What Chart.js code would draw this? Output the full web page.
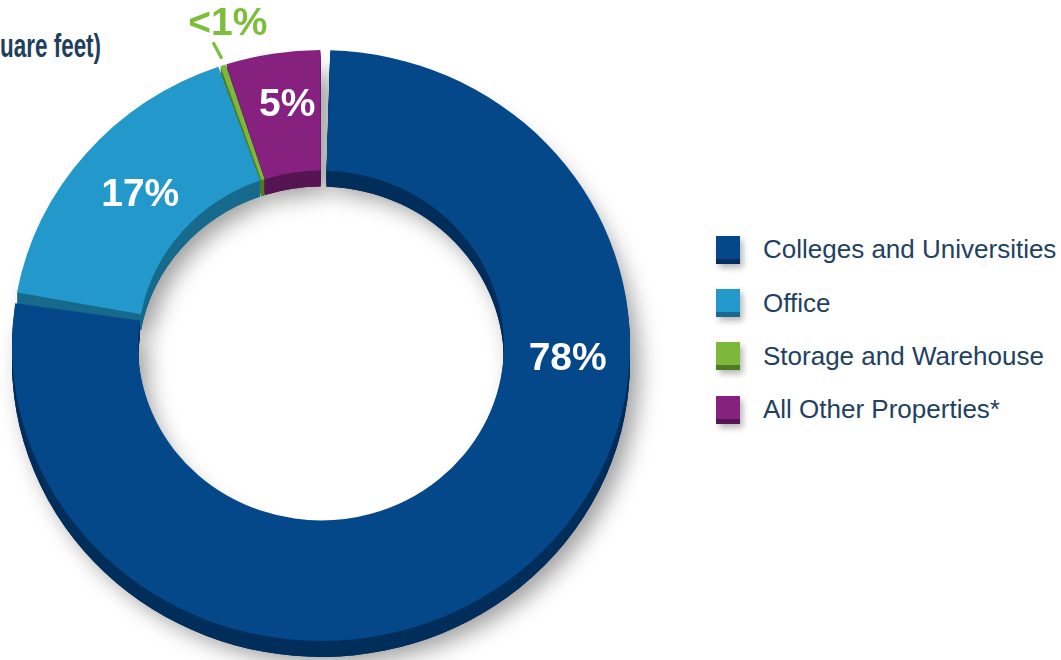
<!DOCTYPE html>
<html><head><meta charset="utf-8">
<script src="https://cdn.jsdelivr.net/npm/chart.js@4.4.1/dist/chart.umd.min.js"></script>
<style>
html,body{margin:0;padding:0;background:#fff;overflow:hidden;width:1061px;height:660px;position:relative;}
#wrap{position:absolute;left:0;top:0;width:700px;height:691px;}
#title{position:absolute;right:960px;top:28px;font:bold 34px/34px "Liberation Sans",Arial,sans-serif;color:#1E3F5E;white-space:nowrap;transform:scaleX(0.66);transform-origin:right center;}
#legend{position:absolute;left:716px;top:223px;font:26px "Liberation Sans",Arial,sans-serif;color:#22415F;}
.item{display:flex;align-items:center;height:53.4px;}
.box{width:24px;height:23px;margin-right:23px;box-shadow:3px 4px 6px rgba(0,0,0,0.28);box-sizing:content-box;}
</style></head>
<body>
<div id="title">(square feet)</div>
<div id="wrap"><canvas id="c" width="700" height="691"></canvas></div>
<div id="legend"></div>
<script>
// ---- data ----
const categories = ["Colleges and Universities", "Office", "Storage and Warehouse", "All Other Properties*"];
const shares = [78, 17, 0.3, 5];
const shareLabels = ["78%", "17%", "<1%", "5%"];
// ---- styles ----
const faceColors = ["#04488A", "#2398CB", "#7DB83A", "#862180"];
const sideColors = ["#022E5B", "#176A8C", "#4F7A24", "#561453"];
const labelColors = ["#FFFFFF", "#FFFFFF", "#7DBE3C", "#FFFFFF"];
const labelAngles = [92.9, -48.6, -15.4, -7.6];   // degrees clockwise from top
const labelRadii  = [247, 241, 351, 256];
const YS = 0.956, DEPTH = 16;

function drawCopies(ctx, meta, colors) {
  meta.data.forEach((arc, i) => {
    const o = arc.options, bg = o.backgroundColor;
    o.backgroundColor = colors[i];
    arc.draw(ctx);
    o.backgroundColor = bg;
  });
}

const depthPlugin = {
  id: 'depth',
  beforeDatasetsDraw(chart) {
    const ctx = chart.ctx;
    const meta = chart.getDatasetMeta(0);
    const cx = meta.data[0].x, cy = meta.data[0].y;
    ctx.save();
    ctx.translate(cx, cy); ctx.scale(1, YS); ctx.translate(-cx, -cy);
    ctx.save();
    ctx.translate(0, DEPTH / YS);
    ctx.shadowColor = 'rgba(0,0,0,0.38)';
    ctx.shadowBlur = 22;
    ctx.shadowOffsetX = 9;
    ctx.shadowOffsetY = 7;
    drawCopies(ctx, meta, sideColors);
    ctx.restore();
    for (let d = DEPTH; d > 0; d -= 2) {
      ctx.save();
      ctx.translate(0, d / YS);
      drawCopies(ctx, meta, sideColors);
      ctx.restore();
    }
  },
  afterDatasetsDraw(chart) {
    const ctx = chart.ctx;
    ctx.restore();
    const meta = chart.getDatasetMeta(0);
    const cx = meta.data[0].x, cy = meta.data[0].y;
    ctx.save();
    ctx.font = 'bold 39px "Liberation Sans", Arial, sans-serif';
    ctx.textAlign = 'center';
    ctx.textBaseline = 'middle';
    shareLabels.forEach((t, i) => {
      const a = labelAngles[i] * Math.PI / 180;
      const x = cx + Math.sin(a) * labelRadii[i];
      const y = cy - Math.cos(a) * labelRadii[i] * YS;
      ctx.fillStyle = labelColors[i];
      ctx.fillText(t, x, y + 2);
    });
    ctx.strokeStyle = labelColors[2];
    ctx.lineWidth = 3.2;
    ctx.beginPath();
    const a1 = -18.8 * Math.PI / 180, a2 = -18.3 * Math.PI / 180;
    ctx.moveTo(cx + Math.sin(a1) * 335, cy - Math.cos(a1) * 335 * YS);
    ctx.lineTo(cx + Math.sin(a2) * 316, cy - Math.cos(a2) * 316 * YS);
    ctx.stroke();
    ctx.restore();
  }
};

new Chart(document.getElementById('c'), {
  type: 'doughnut',
  data: {
    labels: categories,
    datasets: [{
      data: shares,
      backgroundColor: faceColors,
      borderWidth: 0,
      spacing: 6,
      radius: 306,
      cutout: '58.8%'
    }]
  },
  options: {
    responsive: false,
    animation: false,
    events: [],
    layout: { padding: { left: 0, right: 58, top: 0, bottom: 0 } },
    plugins: { legend: { display: false }, tooltip: { enabled: false }, title: { display: false } }
  },
  plugins: [depthPlugin]
});

const lg = document.getElementById('legend');
categories.forEach((c, i) => {
  const it = document.createElement('div'); it.className = 'item';
  const b = document.createElement('div'); b.className = 'box';
  b.style.background = faceColors[i];
  b.style.borderBottom = '5px solid ' + sideColors[i];
  const s = document.createElement('span'); s.textContent = c;
  it.appendChild(b); it.appendChild(s); lg.appendChild(it);
});
</script>
</body></html>
